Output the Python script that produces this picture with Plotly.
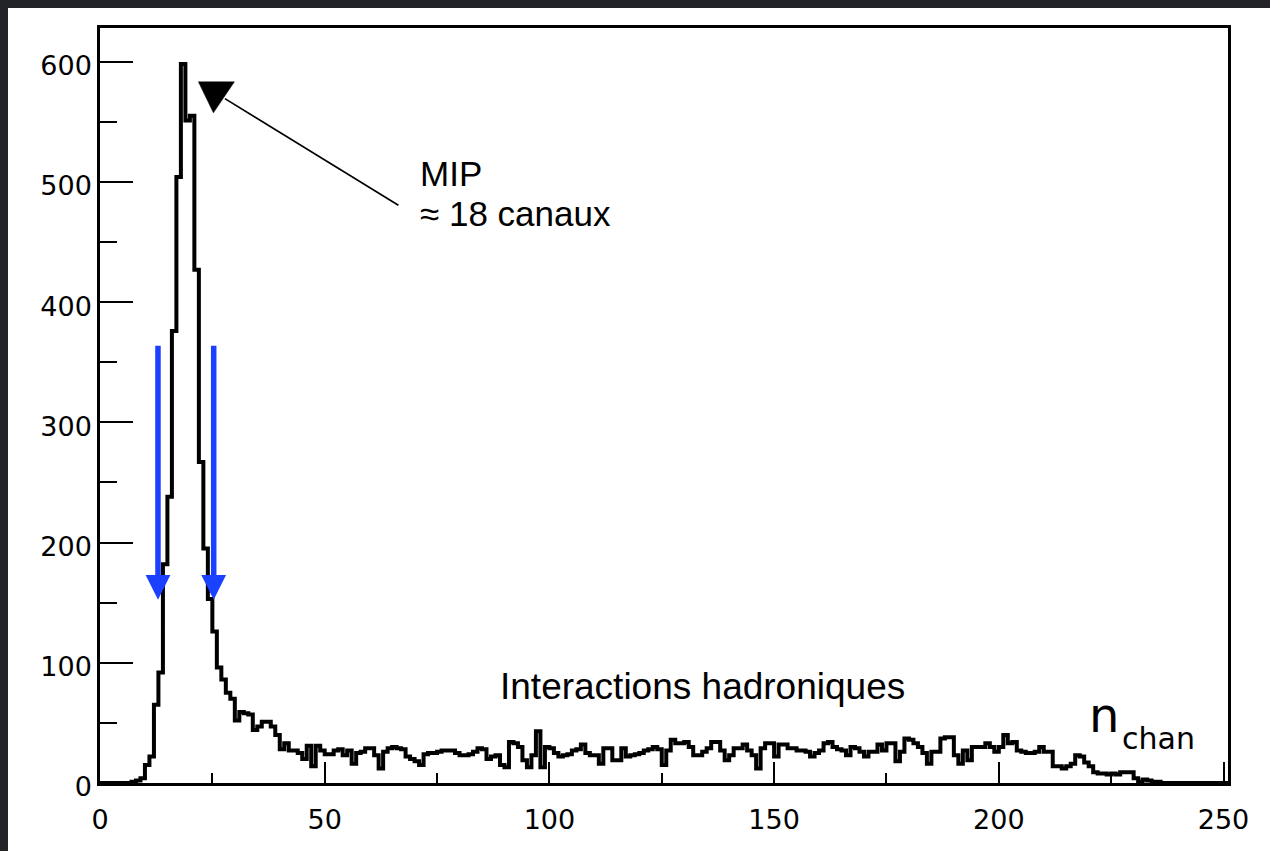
import plotly.graph_objects as go

# Histogram of fired channels per event, 1-channel bins from 0 to 251
bin_width = 1
counts = [
    0, 0, 0, 0, 0, 0, 0, 1, 2, 4,
    15, 22, 65, 92, 182, 238, 376, 504, 598, 551,
    555, 427, 267, 195, 153, 126, 96, 86, 75, 70,
    52, 59, 58, 57, 44, 47, 51, 51, 47, 40,
    28, 33, 27, 27, 25, 20, 31, 14, 31, 27,
    24, 24, 27, 28, 23, 27, 16, 25, 26, 29,
    29, 23, 12, 26, 29, 30, 29, 28, 22, 20,
    18, 15, 24, 25, 25, 26, 27, 27, 27, 25,
    23, 23, 24, 26, 29, 28, 20, 22, 23, 15,
    13, 34, 33, 30, 19, 13, 23, 43, 13, 30,
    29, 25, 22, 23, 24, 27, 28, 32, 25, 23,
    23, 16, 29, 29, 19, 19, 29, 22, 23, 24,
    25, 27, 28, 30, 28, 15, 27, 36, 33, 33,
    34, 30, 23, 23, 26, 29, 34, 34, 27, 19,
    23, 29, 29, 32, 27, 23, 12, 29, 33, 33,
    22, 32, 32, 29, 29, 27, 27, 26, 22, 25,
    27, 33, 34, 30, 28, 27, 23, 30, 29, 26,
    22, 26, 26, 32, 27, 33, 33, 18, 26, 37,
    36, 33, 30, 25, 16, 26, 26, 37, 38, 38,
    23, 16, 27, 19, 30, 30, 30, 33, 30, 26,
    30, 40, 33, 34, 27, 26, 25, 25, 26, 30,
    26, 26, 14, 14, 12, 14, 16, 23, 22, 17,
    14, 9, 8, 8, 7, 8, 7, 9, 9, 9,
    4, 1, 3, 2, 1, 1, 0, 0, 0, 0,
    0, 0, 0, 0, 0, 0, 0, 0, 0, 0,
    0,
]

x_major = [0, 50, 100, 150, 200, 250]
y_major = [0, 100, 200, 300, 400, 500, 600]
x_range = [0, 251]
y_range = [0, 628]

# annotation texts and anchor points (data units)
mip_title = "MIP"
mip_value = "≈ 18 canaux"
mip_text_pos = (71.0, 507.2)
mip_value_pos = (71.0, 474.0)
mip_pointer_from = (66.4, 480.6)
mip_pointer_to = (27.8, 569.2)
mip_marker_pos = (25.9, 570.3)
hadron_label = "Interactions hadroniques"
hadron_pos = (88.5, 80.0)
axis_label_main = "n"
axis_label_sub = "chan"
axis_label_main_pos = (219.7, 56.8)
axis_label_sub_pos = (227.0, 37.0)
cut_low = 12.9
cut_high = 25.3
cut_arrow_top = 365
cut_arrow_tip = 152.4

# step outline: x = left bin edges plus the final right edge
edges = [i * bin_width for i in range(len(counts) + 1)]
step_y = counts + [counts[-1]]

W, H = 1270, 851
L, R, T, B = 100, 42, 28, 67.5
pw, ph = W - L - R, H - T - B

fig = go.Figure()
fig.add_trace(go.Scatter(
    x=edges, y=step_y, mode="lines", line_shape="hv",
    line=dict(color="black", width=4), hoverinfo="skip", showlegend=False,
))

shapes = [
    # white page card over the dark backdrop
    dict(type="rect", xref="paper", yref="paper", layer="below",
         x0=(8 - L) / pw, x1=(W + 20 - L) / pw,
         y0=(T + ph - H - 20) / ph, y1=(T + ph - 8) / ph,
         fillcolor="white", line=dict(width=0)),
    # pointer from the MIP label to the peak marker
    dict(type="line", xref="x", yref="y",
         x0=mip_pointer_from[0], y0=mip_pointer_from[1],
         x1=mip_pointer_to[0], y1=mip_pointer_to[1],
         line=dict(color="black", width=1.6)),
    # filled downward triangle marking the peak (pixel-sized, anchored in data units)
    dict(type="path", xref="x", yref="y", xsizemode="pixel", ysizemode="pixel",
         xanchor=mip_marker_pos[0], yanchor=mip_marker_pos[1],
         path="M-18,15.5 L18,15.5 L-3,-15.5 Z",
         fillcolor="black", line=dict(color="black", width=0.5)),
]

text_font = dict(family="Liberation Sans, Arial, sans-serif", size=35, color="black")
annotations = [
    dict(x=mip_text_pos[0], y=mip_text_pos[1], text=mip_title, showarrow=False,
         xanchor="left", yanchor="middle", font=text_font, borderpad=0),
    dict(x=mip_value_pos[0], y=mip_value_pos[1], text=mip_value, showarrow=False,
         xanchor="left", yanchor="middle", font=text_font, borderpad=0),
    dict(x=hadron_pos[0], y=hadron_pos[1], text=hadron_label, showarrow=False,
         xanchor="left", yanchor="middle",
         font=dict(family="Liberation Sans, Arial, sans-serif", size=37, color="black")),
    dict(x=axis_label_main_pos[0], y=axis_label_main_pos[1], text=axis_label_main,
         showarrow=False, xanchor="left", yanchor="middle",
         font=dict(family="DejaVu Sans", size=48, color="black")),
    dict(x=axis_label_sub_pos[0], y=axis_label_sub_pos[1], text=axis_label_sub,
         showarrow=False, xanchor="left", yanchor="middle",
         font=dict(family="DejaVu Sans", size=30, color="black")),
]
for cx in (cut_low, cut_high):
    annotations.append(dict(
        x=cx, y=cut_arrow_tip, ax=cx, ay=cut_arrow_top, axref="x", ayref="y",
        xref="x", yref="y", text="", showarrow=True, arrowhead=2,
        arrowsize=0.9, arrowwidth=5.5, arrowcolor="#1a41ff", standoff=0,
    ))

tick_font = dict(family="DejaVu Sans", size=27, color="black")
fig.update_layout(
    width=W, height=H, margin=dict(l=L, r=R, t=T, b=B, pad=0),
    paper_bgcolor="#232428", plot_bgcolor="white",
    shapes=shapes, annotations=annotations, showlegend=False,
    xaxis=dict(
        range=x_range, tickvals=x_major, ticks="inside", ticklen=21, tickwidth=1.5,
        tickcolor="black", showline=True, linecolor="black", linewidth=2.5, mirror=True,
        showgrid=False, zeroline=False, tickfont=tick_font, ticklabelstandoff=11,
        minor=dict(dtick=25, tick0=0, ticks="inside", ticklen=10, tickwidth=1.5,
                   tickcolor="black", showgrid=False),
    ),
    yaxis=dict(
        range=y_range, tickvals=y_major, ticks="inside", ticklen=33, tickwidth=2,
        tickcolor="black", showline=True, linecolor="black", linewidth=2.5, mirror=True,
        showgrid=False, zeroline=False, tickfont=tick_font, ticklabelshift=4,
        minor=dict(dtick=50, tick0=0, ticks="inside", ticklen=17, tickwidth=2,
                   tickcolor="black", showgrid=False),
    ),
)

fig.write_html("out.html")
